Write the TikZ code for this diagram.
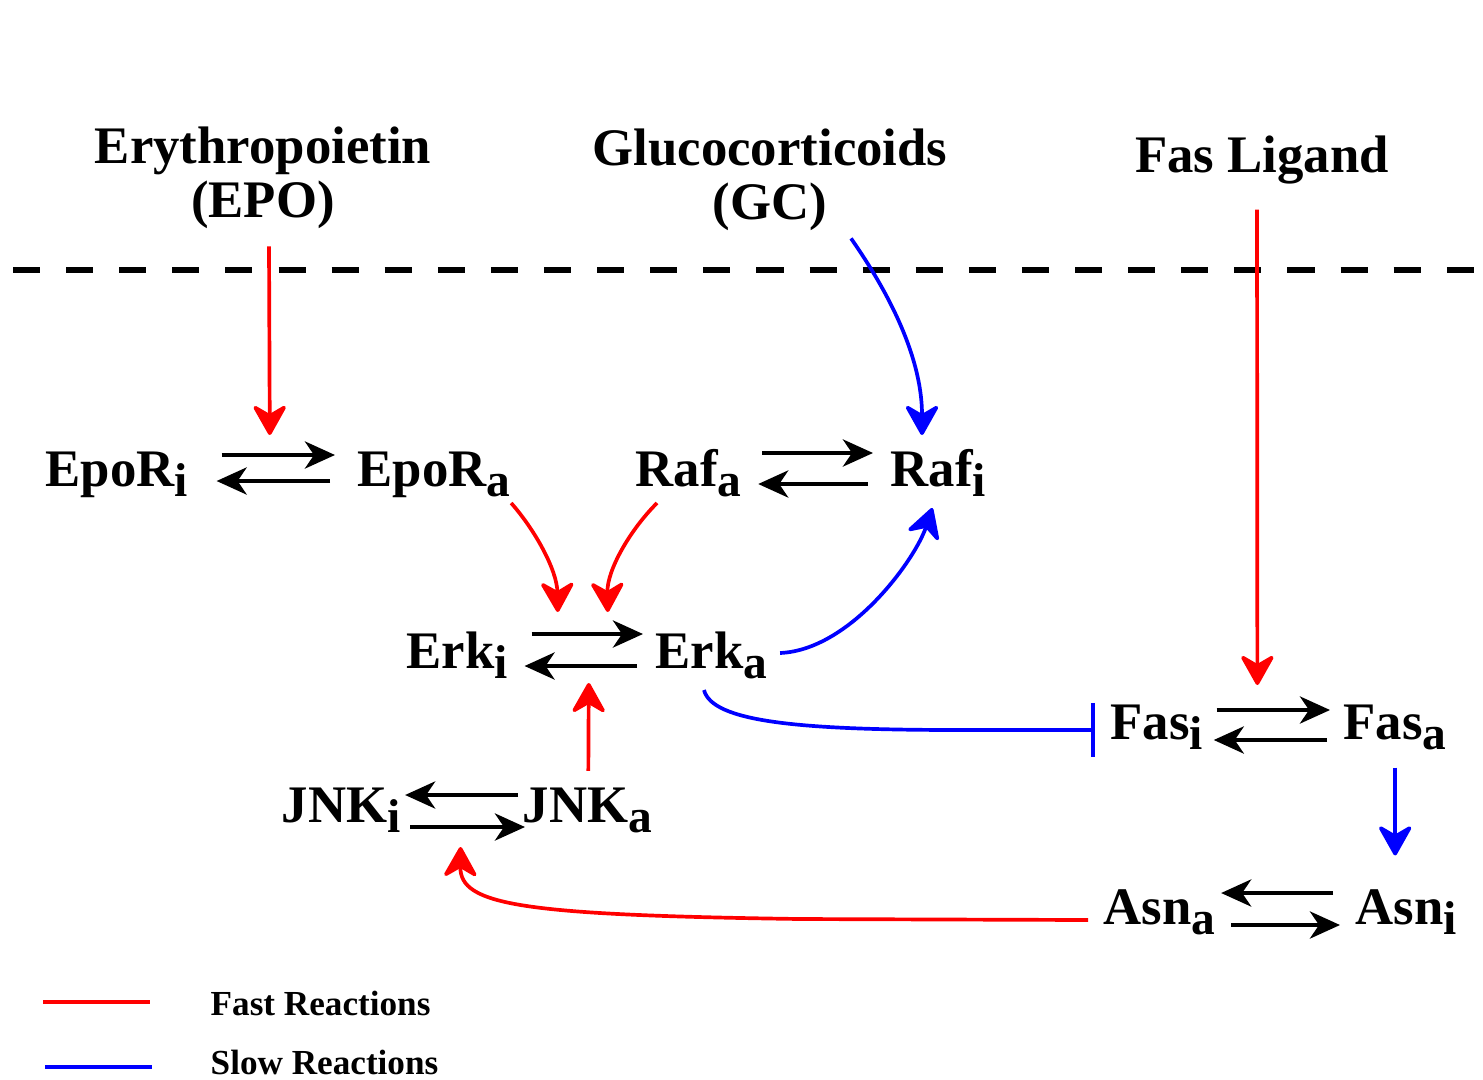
\documentclass[tikz,border=0pt]{standalone}
\usepackage{fontspec}
\setmainfont{Liberation Serif}
\usetikzlibrary{arrows.meta,calc}

% lowered index for the species names
\newcommand{\lo}[1]{\raisebox{-3pt}{\fontsize{13.5}{13.5}\selectfont #1}}

\tikzset{
  species/.style={font=\fontsize{15}{15.4}\selectfont\bfseries, inner sep=0pt, anchor=base west},
  signal/.style={font=\fontsize{15}{15.4}\selectfont\bfseries, inner sep=0pt, anchor=north, align=center},
  legendtext/.style={font=\fontsize{10}{12}\selectfont\bfseries, inner sep=0pt, anchor=base west},
  fast/.style={red, line width=1.05pt, -{Stealth[length=3.4mm,width=3.8mm,inset=1.1mm,round]}},
  slow/.style={blue, line width=1.05pt, -{Stealth[length=3.4mm,width=3.8mm,inset=1.1mm,round]}},
  block/.style={blue, line width=1.05pt, -{Bar[width=5.4mm,line width=1.05pt]}},
  rxn/.style={black, line width=1.3pt, -{Stealth[length=3mm,width=2.7mm,inset=0.9mm]}}
}

\begin{document}
\begin{tikzpicture}[x=0.01cm,y=-0.01cm]
\useasboundingbox (0,0) rectangle (1483,1079);

% membrane
\draw[line width=1.7pt, dash pattern=on 7.7pt off 7.4pt] (13,270) -- (1483,270);

% signals
\node[signal] (epo) at (263,126) {Erythropoietin\\(EPO)};
\node[signal] (gc) at (770,128) {Glucocorticoids\\(GC)};
\node[signal] (fasl) at (1262,135) {Fas Ligand};

% species
\node[species] (epori) at (45,486) {EpoR\lo{i}};
\node[species] (epora) at (357,486) {EpoR\lo{a}};
\node[species] (rafa) at (635,486) {Raf\lo{a}};
\node[species] (rafi) at (890,486) {Raf\lo{i}};
\node[species] (erki) at (406,668) {Erk\lo{i}};
\node[species] (erka) at (655,668) {Erk\lo{a}};
\node[species] (fasi) at (1110,739) {Fas\lo{i}};
\node[species] (fasa) at (1343,739) {Fas\lo{a}};
\node[species] (jnki) at (281,822) {JNK\lo{i}};
\node[species] (jnka) at (522,822) {JNK\lo{a}};
\node[species] (asna) at (1103,924) {Asn\lo{a}};
\node[species] (asni) at (1355,924) {Asn\lo{i}};

% centres of the equilibria
\coordinate (epoeq) at ($(epori.base east)!0.5!(epora.base west)$);
\coordinate (erkeq) at ($(erki.base east)!0.5!(erka.base west)$);
\coordinate (faseq) at ($(fasi.base east)!0.5!(fasa.base west)$);
\coordinate (jnkeq) at ($(jnki.base east)!0.5!(jnka.base west)$);

% equilibria
\draw[rxn] ($(epori.base east)+(33,-31)$) -- ($(epora.base west)+(-22,-31)$);
\draw[rxn] ($(epora.base west)+(-27,-5)$) -- ($(epori.base east)+(28,-5)$);
\draw[rxn] ($(rafa.base east)+(20,-33)$) -- ($(rafi.base west)+(-17,-33)$);
\draw[rxn] ($(rafi.base west)+(-22,-2)$) -- ($(rafa.base east)+(16,-2)$);
\draw[rxn] ($(erki.base east)+(23,-34)$) -- ($(erka.base west)+(-12,-34)$);
\draw[rxn] ($(erka.base west)+(-18,-2)$) -- ($(erki.base east)+(16,-2)$);
\draw[rxn] ($(fasi.base east)+(13,-29)$) -- ($(fasa.base west)+(-13,-29)$);
\draw[rxn] ($(fasa.base west)+(-16,1)$) -- ($(fasi.base east)+(10,1)$);
\draw[rxn] ($(jnka.base west)+(-4,-27)$) -- ($(jnki.base east)+(4,-27)$);
\draw[rxn] ($(jnki.base east)+(9,5)$) -- ($(jnka.base west)+(3,5)$);
\draw[rxn] ($(asni.base west)+(-22,-31)$) -- ($(asna.base east)+(5,-31)$);
\draw[rxn] ($(asna.base east)+(15,1)$) -- ($(asni.base west)+(-15,1)$);

% fast reactions
\draw[fast] ($(epo.south)+(6,17)$) -- ($(epoeq)+(-3,-51)$);
\draw[fast] ($(fasl.south)+(-5,25)$) -- ($(faseq)+(-16,-54)$);
\draw[fast] ($(epora.base east)+(0,17)$) .. controls (535,530) and (557,570) .. ($(erkeq)+(-24,-56)$);
\draw[fast] ($(rafa.base west)+(22,17)$) .. controls (630,530) and (607,570) .. ($(erkeq)+(26,-56)$);
\draw[fast] ($(jnka.north)+(1,-16)$) -- ($(erkeq)+(7,15)$);
\draw[fast] ($(asna.base west)+(-15,-4)$) -- (800,919) .. controls (520,915) and (460,905) .. ($(jnkeq)+(-1,25)$);

% slow reactions
\draw[slow] ($(gc.south)+(81,7)$) .. controls (880,280) and (922,350) .. (922,435);
\draw[slow] ($(erka.base east)+(12,-15)$) .. controls (850,650) and (915,560) .. ($(rafi.base)+(-6,22)$);
\draw[slow] ($(fasa.south)+(0,17)$) -- ($(fasa.south |- asni.north)+(0,-33)$);
\draw[block] ($(erka.base west)+(49,22)$) .. controls (712,722) and (800,730) .. (960,730) -- ($(fasi.base west)+(-15,-9)$);

% legend
\node[legendtext] (fastlbl) at (210,1015) {Fast Reactions};
\node[legendtext] (slowlbl) at (210,1074) {Slow Reactions};
\draw[red, line width=1.1pt] ($(fastlbl.base west)+(-167,-13)$) -- ++(107,0);
\draw[blue, line width=1.1pt] ($(slowlbl.base west)+(-165,-7)$) -- ++(107,0);
\end{tikzpicture}
\end{document}
